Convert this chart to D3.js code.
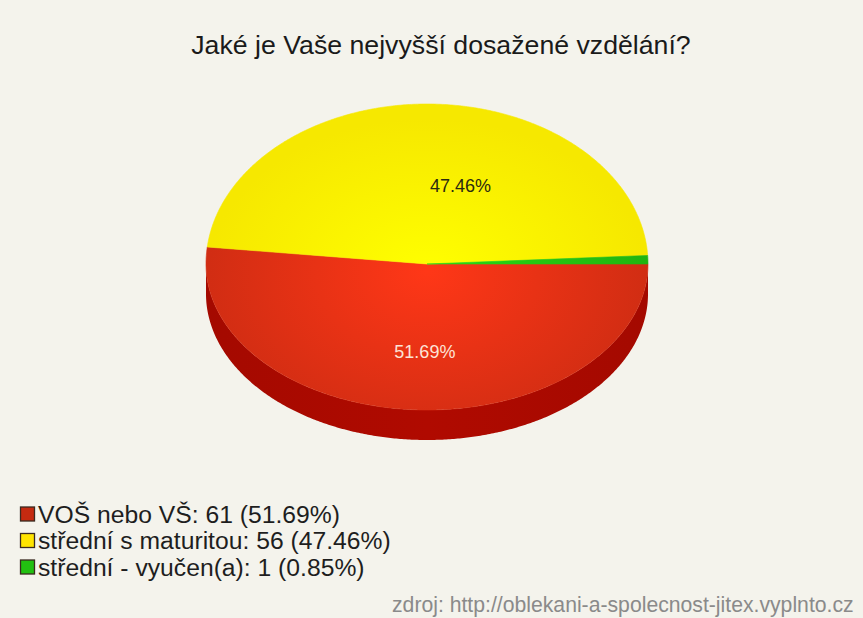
<!DOCTYPE html>
<html>
<head>
<meta charset="utf-8">
<script src="https://cdn.jsdelivr.net/npm/d3@7"></script>
<style>
  html, body { margin: 0; padding: 0; background: #f4f3ec; }
  svg { display: block; }
  text { font-family: "Liberation Sans", Arial, sans-serif; }
</style>
</head>
<body>
<svg id="chart" width="863" height="618"></svg>
<script>
// Survey answers
const title = "Jaké je Vaše nejvyšší dosažené vzdělání?";
const categories = ["VOŠ nebo VŠ", "střední s maturitou", "střední - vyučen(a)"];
const counts = [61, 56, 1];
const percents = [51.69, 47.46, 0.85];
const colors = ["#d92f14", "#fff000", "#22bb11"];
const sideColors = ["#b00a00", "#d8c400", "#168a08"];
const legendColors = ["#c42a10", "#ffe400", "#22c011"];
const source = "zdroj: http://oblekani-a-spolecnost-jitex.vyplnto.cz";

const W = 863, H = 618;
const svg = d3.select("#chart");

svg.append("rect").attr("width", W).attr("height", H).attr("fill", "#f4f3ec");

svg.append("text")
  .attr("x", 441).attr("y", 54)
  .attr("text-anchor", "middle")
  .attr("font-size", 26.7)
  .attr("fill", "#1a1a1a")
  .text(title);

// 3D pie geometry
const cx = 427, cy = 264, rx = 221, ryTop = 160, ryBot = 146, depth = 30;

// d3 angle (clockwise from 12 o'clock) -> point on the top ellipse
function pt(a, dy = 0) {
  const s = Math.sin(a), c = -Math.cos(a);
  return [cx + rx * s, cy + (c < 0 ? ryTop : ryBot) * c + dy];
}
function arcPoints(a0, a1, dy = 0) {
  const n = Math.max(2, Math.ceil(Math.abs(a1 - a0) / (Math.PI / 360)));
  return d3.range(n + 1).map(i => pt(a0 + (a1 - a0) * i / n, dy));
}

const pie = d3.pie().sort(null)
  .startAngle(Math.PI / 2).endAngle(Math.PI / 2 + 2 * Math.PI);
const arcs = pie(counts);
const line = d3.line();

const defs = svg.append("defs");
arcs.forEach((d, i) => {
  const g = defs.append("radialGradient")
    .attr("id", "top" + i)
    .attr("gradientUnits", "userSpaceOnUse")
    .attr("cx", cx).attr("cy", cy + 20).attr("r", rx)
    .attr("fx", cx).attr("fy", cy + 10)
    .attr("gradientTransform", `translate(${cx},${cy}) scale(1,${ryTop / rx}) translate(${-cx},${-cy})`);
  const base = d3.color(colors[i]);
  g.append("stop").attr("offset", "0%").attr("stop-color", base.brighter(0.45));
  g.append("stop").attr("offset", "100%").attr("stop-color", base.darker(0.1));

  const s = defs.append("linearGradient").attr("id", "side" + i)
    .attr("gradientUnits", "userSpaceOnUse")
    .attr("x1", cx - rx).attr("x2", cx + rx).attr("y1", 0).attr("y2", 0);
  const sb = d3.color(sideColors[i]);
  s.append("stop").attr("offset", "0%").attr("stop-color", sb.darker(0.2));
  s.append("stop").attr("offset", "50%").attr("stop-color", sb);
  s.append("stop").attr("offset", "100%").attr("stop-color", sb.darker(0.2));
});

// Front walls (only the part of each slice that faces the viewer)
const gSide = svg.append("g");
arcs.forEach((d, i) => {
  const a0 = Math.max(d.startAngle, Math.PI / 2);
  const a1 = Math.min(d.endAngle, 3 * Math.PI / 2);
  if (a1 <= a0) return;
  const topEdge = arcPoints(a0, a1);
  const botEdge = arcPoints(a1, a0, depth);
  gSide.append("path")
    .attr("d", line(topEdge.concat(botEdge)) + "Z")
    .attr("fill", `url(#side${i})`);
});

// Top faces
const gTop = svg.append("g");
arcs.forEach((d, i) => {
  const pts = [[cx, cy]].concat(arcPoints(d.startAngle, d.endAngle));
  gTop.append("path")
    .attr("d", line(pts) + "Z")
    .attr("fill", `url(#top${i})`)
    .attr("stroke", `url(#top${i})`)
    .attr("stroke-width", 0.6);
});

// Percentage labels on the two large slices
const labelColors = ["#fde3d6", "#2a2a10"];
arcs.forEach((d, i) => {
  if (percents[i] < 5) return;
  const mid = (d.startAngle + d.endAngle) / 2;
  const c = -Math.cos(mid);
  const x = cx + rx * 0.52 * Math.sin(mid) + (c < 0 ? 0 : 4);
  const y = cy + ryTop * 0.52 * c + 5;
  svg.append("text")
    .attr("x", x).attr("y", y)
    .attr("dy", "0.35em")
    .attr("text-anchor", c < 0 ? "start" : "middle")
    .attr("font-size", 18)
    .attr("fill", labelColors[i])
    .text(percents[i].toFixed(2) + "%");
});

// Legend
const legend = svg.append("g").attr("transform", "translate(20,514)");
categories.forEach((name, i) => {
  const row = legend.append("g").attr("transform", `translate(0,${i * 26.5})`);
  row.append("rect")
    .attr("x", 0.5).attr("y", -7).attr("width", 14).attr("height", 14)
    .attr("fill", legendColors[i])
    .attr("stroke", "#3a2a20").attr("stroke-width", 1.3);
  row.append("text")
    .attr("x", 18).attr("y", 0).attr("dy", "0.36em")
    .attr("font-size", 24.7)
    .attr("fill", "#1e1e1e")
    .text(`${name}: ${counts[i]} (${percents[i].toFixed(2)}%)`);
});

// Source note, kept inside the right edge
svg.append("text")
  .attr("x", 392).attr("y", 612)
  .attr("font-size", 21.2)
  .attr("fill", "#8a8a8a")
  .text(source);
</script>
</body>
</html>
